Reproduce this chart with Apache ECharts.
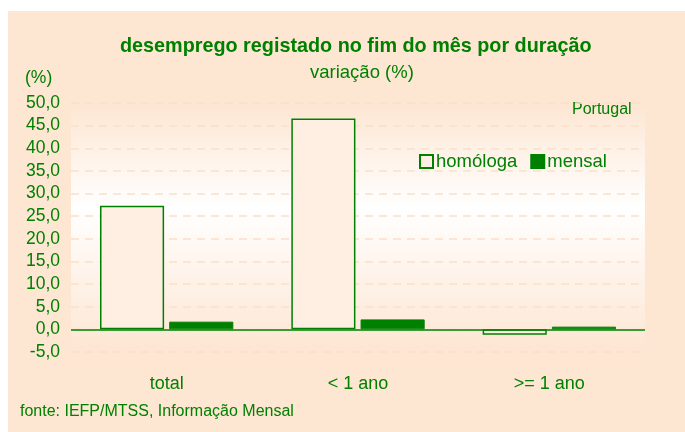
<!DOCTYPE html>
<html>
<head>
<meta charset="utf-8">
<script src="https://cdn.jsdelivr.net/npm/echarts@6/dist/echarts.min.js"></script>
<style>
html,body{margin:0;padding:0;background:#fff;}
#c{width:685px;height:432px;}
</style>
</head>
<body>
<div id="c"></div>
<script>
const categories = ['total', '< 1 ano', '>= 1 ano'];
const homologa = [27.3, 46.6, -1.2];
const mensal = [1.7, 2.2, 0.6];
const seriesNames = ['homóloga', 'mensal'];
const yMin = -5, yMax = 50, yStep = 5;

const GREEN = '#008000';
const PEACH = '#FDE6D2';
const FONT = '"Liberation Sans", Arial, sans-serif';

const chart = echarts.init(document.getElementById('c'), null, {renderer: 'canvas'});
chart.setOption({
  animation: false,
  backgroundColor: '#ffffff',
  textStyle: {fontFamily: FONT, color: GREEN},
  graphic: [
    {type: 'rect', z: -10, shape: {x: 8, y: 11, width: 677, height: 421}, style: {fill: PEACH}},
    {type: 'text', left: 120, top: 37, style: {text: 'desemprego registado no fim do mês por duração', font: 'bold 19.8px ' + FONT, fill: GREEN}},
    {type: 'text', left: 310, top: 63, style: {text: 'variação (%)', font: '18.5px ' + FONT, fill: GREEN}},
    {type: 'text', left: 25, top: 69, style: {text: '(%)', font: '17.5px ' + FONT, fill: GREEN}},
    {type: 'text', left: 572, top: 102, style: {text: 'Portugal', font: '16px ' + FONT, fill: GREEN}},
    {type: 'text', left: 20, top: 404, style: {text: 'fonte: IEFP/MTSS, Informação Mensal', font: '16px ' + FONT, fill: GREEN}}
  ],
  grid: {
    left: 71, right: 40, top: 103, bottom: 80,
    show: true, borderWidth: 0,
    backgroundColor: {
      type: 'linear', x: 0, y: 0, x2: 0, y2: 1,
      colorStops: [
        {offset: 0, color: PEACH},
        {offset: 0.42, color: '#FFFFFF'},
        {offset: 1, color: PEACH}
      ]
    }
  },
  legend: {
    left: 414, top: 147,
    itemWidth: 13, itemHeight: 13, itemGap: 13,
    icon: 'rect',
    textStyle: {color: GREEN, fontSize: 18.5, fontFamily: FONT, padding: [0, 0, 0, -2]},
    data: seriesNames
  },
  xAxis: {
    type: 'category',
    data: categories,
    axisLine: {show: false, onZero: false},
    axisTick: {show: false},
    axisLabel: {color: GREEN, fontSize: 18, fontFamily: FONT, margin: 23}
  },
  yAxis: {
    type: 'value',
    min: yMin, max: yMax, interval: yStep,
    axisLine: {show: false},
    axisTick: {show: false},
    axisLabel: {
      color: GREEN, fontSize: 17.5, fontFamily: FONT, margin: 11,
      formatter: v => v.toFixed(1).replace('.', ',')
    },
    splitLine: {show: true, lineStyle: {color: '#FBE0C8', type: [8, 6], width: 1.5}}
  },
  series: [
    {
      name: seriesNames[0], type: 'bar', data: homologa,
      barWidth: '33.5%', barGap: '8%',
      itemStyle: {color: '#FEEFE2', borderColor: GREEN, borderWidth: 1.5},
      markLine: {
        silent: true, symbol: 'none', label: {show: false},
        lineStyle: {color: GREEN, type: 'solid', width: 1.5},
        data: [{yAxis: 0}]
      }
    },
    {
      name: seriesNames[1], type: 'bar', data: mensal,
      barWidth: '33.5%', barGap: '8%',
      itemStyle: {color: GREEN, borderColor: GREEN, borderWidth: 1}
    }
  ]
});
</script>
</body>
</html>
